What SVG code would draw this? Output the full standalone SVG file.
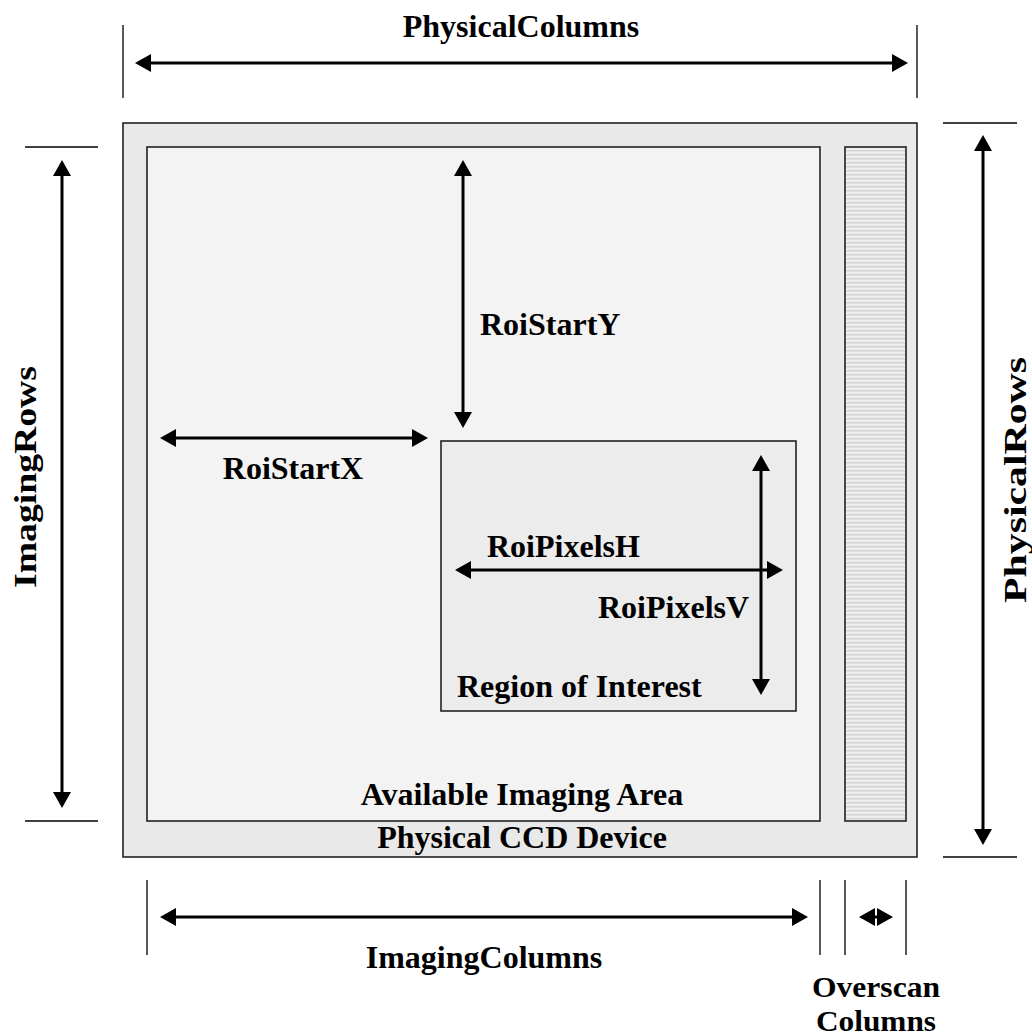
<svg xmlns="http://www.w3.org/2000/svg" width="1032" height="1036" viewBox="0 0 1032 1036">
<style>
text{font-family:"Liberation Serif","Times New Roman",serif;font-weight:bold;font-size:32px;fill:#000}
.small{font-size:30px}
.box{stroke:#222;stroke-width:1.6}
.tick{stroke:#000;stroke-width:1.3;fill:none}
.arr{stroke:#000;stroke-width:3;fill:none;marker-start:url(#ah);marker-end:url(#ah)}
</style>
<defs>
<marker id="ah" viewBox="0 0 16 18" refX="9" refY="9" markerWidth="16" markerHeight="18" markerUnits="userSpaceOnUse" orient="auto-start-reverse">
<path d="M0,0 L16,9 L0,18 z" fill="#000"/>
</marker>
<pattern id="stripes" width="6" height="4" patternUnits="userSpaceOnUse">
<rect width="6" height="4" fill="#eeeeee"/>
<rect y="2" width="6" height="1.5" fill="#d4d4d4"/>
</pattern>
</defs>
<rect width="1032" height="1036" fill="#fff"/>
<g id="ccd-device">
<rect class="box" x="123" y="123" width="794" height="734" fill="#e9e9e9"/>
<text x="522" y="848" text-anchor="middle">Physical CCD Device</text>
</g>
<g id="imaging-area">
<rect class="box" x="147" y="147" width="673" height="674" fill="#f3f3f3"/>
<text x="522" y="805" text-anchor="middle">Available Imaging Area</text>
</g>
<g id="overscan">
<rect class="box" x="845" y="147" width="61" height="674" fill="url(#stripes)"/>
</g>
<g id="roi">
<rect class="box" x="441" y="441" width="355" height="270" fill="#ececec"/>
<text x="457" y="697">Region of Interest</text>
</g>
<g id="connectors">
<line class="tick" x1="123" y1="25" x2="123" y2="98"/>
<line class="tick" x1="917" y1="25" x2="917" y2="98"/>
<line class="arr" x1="142" y1="63" x2="901" y2="63"/>
<line class="tick" x1="25" y1="147" x2="98" y2="147"/>
<line class="tick" x1="25" y1="821" x2="98" y2="821"/>
<line class="arr" x1="62" y1="167" x2="62" y2="801"/>
<line class="tick" x1="943" y1="123" x2="1017" y2="123"/>
<line class="tick" x1="943" y1="857" x2="1017" y2="857"/>
<line class="arr" x1="983" y1="142" x2="983" y2="838"/>
<line class="arr" x1="463" y1="167" x2="463" y2="421"/>
<line class="arr" x1="167" y1="438" x2="421" y2="438"/>
<line class="arr" x1="462" y1="570" x2="776" y2="570"/>
<line class="arr" x1="761" y1="462" x2="761" y2="688"/>
<line class="tick" x1="147" y1="880" x2="147" y2="955"/>
<line class="tick" x1="820" y1="880" x2="820" y2="955"/>
<line class="tick" x1="845" y1="880" x2="845" y2="955"/>
<line class="tick" x1="906" y1="880" x2="906" y2="955"/>
<line class="arr" x1="167" y1="917" x2="801" y2="917"/>
<line class="arr" x1="866" y1="917" x2="886" y2="917"/>
</g>
<g id="labels">
<text x="521" y="37" text-anchor="middle">PhysicalColumns</text>
<text transform="translate(36,477) rotate(-90)" text-anchor="middle" textLength="222" lengthAdjust="spacingAndGlyphs">ImagingRows</text>
<text transform="translate(1026,480) rotate(-90)" text-anchor="middle" textLength="246" lengthAdjust="spacingAndGlyphs">PhysicalRows</text>
<text x="480" y="335">RoiStartY</text>
<text x="293" y="479" text-anchor="middle">RoiStartX</text>
<text x="487" y="557">RoiPixelsH</text>
<text x="598" y="618">RoiPixelsV</text>
<text x="484" y="968" text-anchor="middle">ImagingColumns</text>
<text class="small" x="876" y="997" text-anchor="middle" textLength="128" lengthAdjust="spacingAndGlyphs">Overscan</text>
<text class="small" x="876" y="1031" text-anchor="middle" textLength="120" lengthAdjust="spacingAndGlyphs">Columns</text>
</g>
</svg>
